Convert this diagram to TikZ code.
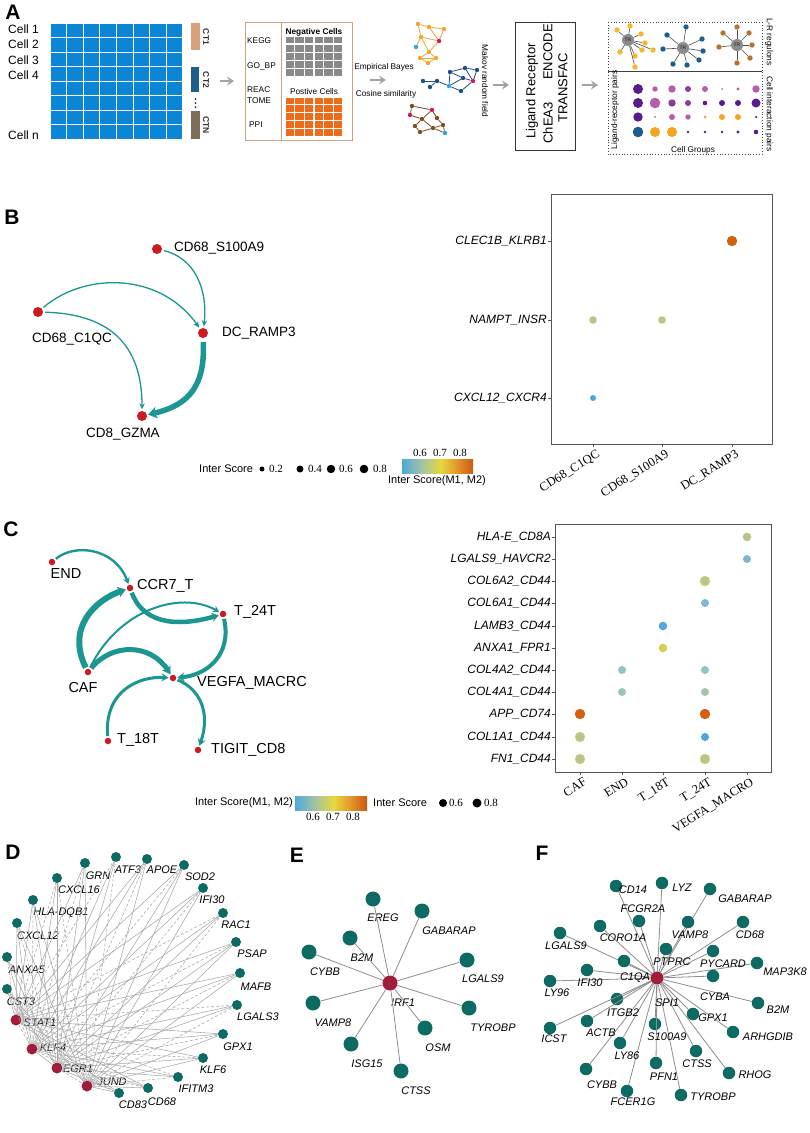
\documentclass[tikz,border=0pt]{standalone}
\usepackage{fontspec}
\setmainfont{Liberation Sans}
\newfontfamily\tnr{Liberation Serif}
\usetikzlibrary{arrows.meta}
\newcommand\fsz[1]{\fontsize{#1}{#1}\selectfont}
\definecolor{gridblue}{HTML}{0B86D6}
\definecolor{ctone}{HTML}{D9A27C}
\definecolor{cttwo}{HTML}{1D5E8A}
\definecolor{ctn}{HTML}{7C6C58}
\definecolor{arrowgray}{HTML}{A3A3A3}
\definecolor{boxtan}{HTML}{C9A27E}
\definecolor{cellgray}{HTML}{8A8A8A}
\definecolor{cellorange}{HTML}{EF6C1A}
\definecolor{netorange}{HTML}{F2A52A}
\definecolor{netblue}{HTML}{1E4F86}
\definecolor{netbrown}{HTML}{7E4F22}
\definecolor{netred}{HTML}{E0115F}
\definecolor{netlblue}{HTML}{2AA7E3}
\definecolor{trgray}{HTML}{8C8C8C}
\definecolor{leafyellow}{HTML}{F5B72C}
\definecolor{leafblue}{HTML}{1C5E8C}
\definecolor{leafbrown}{HTML}{B8712F}
\definecolor{dpur}{HTML}{5A1C8C}
\definecolor{mag}{HTML}{B65EAC}
\definecolor{mpur}{HTML}{8C3A9B}
\definecolor{gold}{HTML}{F5A41F}
\definecolor{dotblue}{HTML}{1E5C8F}
\definecolor{edgeteal}{HTML}{1C9690}
\definecolor{nodered}{HTML}{CC1B1F}
\definecolor{axisgray}{HTML}{555555}
\definecolor{cbA}{HTML}{4DA8DF}
\definecolor{cbB}{HTML}{A9C59C}
\definecolor{cbC}{HTML}{E5D73E}
\definecolor{cbD}{HTML}{E39A2C}
\definecolor{cbE}{HTML}{CC5A12}
\definecolor{dsage}{HTML}{B7C48E}
\definecolor{dlblue}{HTML}{80B6D0}
\definecolor{dlbluetwo}{HTML}{7DB8D8}
\definecolor{dblue}{HTML}{56A8DC}
\definecolor{dyellow}{HTML}{D6CF50}
\definecolor{dtealone}{HTML}{96C2C6}
\definecolor{dtealtwo}{HTML}{9CC3BE}
\definecolor{dtealthree}{HTML}{A6C3AA}
\definecolor{dorange}{HTML}{D2600F}
\definecolor{dbluefour}{HTML}{4BA4DD}
\definecolor{dringe}{HTML}{E6CF6E}
\definecolor{gteal}{HTML}{0E6B63}
\definecolor{gred}{HTML}{A11D3C}
\definecolor{dgray}{HTML}{A8A8A8}
\definecolor{egray}{HTML}{8E8E8E}
\pgfdeclarehorizontalshading{scorebar}{100bp}{color(0bp)=(cbA); color(25bp)=(cbA); color(40bp)=(cbB); color(52bp)=(cbC); color(63bp)=(cbD); color(75bp)=(cbE); color(100bp)=(cbE)}
\begin{document}
\begin{tikzpicture}[x=1pt,y=-1pt,
  panel/.style={inner sep=0, font=\fsz{21}\bfseries},
  celllab/.style={inner sep=0, anchor=west, font=\fsz{12}},
  small/.style={inner sep=0, font=\fsz{8.3}},
  ctlab/.style={inner sep=0, font=\fsz{8.5}\bfseries, text=black!80, rotate=-90},
  boxtxt/.style={inner sep=0, font=\fsz{13}, rotate=90},
  grayarrow/.style={-{Stealth[length=7,width=9,inset=2.5]}, line width=1.6, draw=arrowgray},
  gn/.style={circle, inner sep=0, minimum size=4.4},
  lf/.style={circle, inner sep=0, minimum size=5.4},
  trn/.style={circle, inner sep=0, minimum size=12, fill=trgray, font=\fsz{5}\bfseries, text=black!75},
  rnode/.style={circle, inner sep=0, minimum size=10, fill=nodered},
  rsnode/.style={circle, inner sep=0, minimum size=6.5, fill=nodered},
  blab/.style={inner sep=0, font=\fsz{13.5}},
  clab/.style={inner sep=0, font=\fsz{14.5}},
  bedge/.style={draw=edgeteal, line width=1.3, -{Stealth[length=6,width=5.5]}, shorten <=2, shorten >=1.5},
  cedge/.style={draw=edgeteal, shorten <=1.5, shorten >=1},
  ylab/.style={inner sep=0, anchor=east, font=\fsz{12}\itshape},
  xlab/.style={inner sep=0, anchor=north east, rotate=32, font=\fsz{12.5}\tnr},
  leg/.style={inner sep=0, font=\fsz{11}},
  legnum/.style={inner sep=0, font=\fsz{11}\tnr},
  dtnode/.style={circle, inner sep=0, minimum size=10, fill=gteal},
  drnode/.style={circle, inner sep=0, minimum size=11, fill=gred},
  glab/.style={inner sep=0, font=\fsz{11}\itshape},
  dedge/.style={draw=dgray, line width=0.55},
  etnode/.style={circle, inner sep=0, minimum size=15, fill=gteal},
  ftnode/.style={circle, inner sep=0, minimum size=12.5, fill=gteal},
  eedge/.style={draw=egray, line width=0.8}
]
\useasboundingbox (0,0) rectangle (809,1133);
\fill[white] (0,0) rectangle (809,1133);

%%%%%%%%%%%%%%%% PANEL A
\node[panel] (pA) at (13,12) {A};
\foreach \i in {0,...,7} \foreach \j in {0,...,7}
  \fill[gridblue] ({50.5+\i*16.6},{23.5+\j*14.5}) rectangle ++(15.6,13.5);
\node[celllab] (c1) at (8,29) {Cell 1};
\node[celllab] (c2) at (8,44) {Cell 2};
\node[celllab] (c3) at (8,60) {Cell 3};
\node[celllab] (c4) at (8,75) {Cell 4};
\node[celllab] (cn) at (8,135) {Cell n};
\fill[ctone] (191,23) rectangle (200,50);
\fill[cttwo] (191,67) rectangle (199,92);
\fill[ctn] (191,111) rectangle (200,139);
\foreach \yy in {99,103,107} \fill[black!80] (195.5,\yy) circle (1);
\node[ctlab] (ct1) at (206,37) {CT1};
\node[ctlab] (ct2) at (206,80) {CT2};
\node[ctlab] (ctN) at (206,125) {CTN};

\coordinate (ar1s) at (220,81); \coordinate (ar1e) at (234,81);
\draw[grayarrow] (ar1s) -- (ar1e);

\draw[boxtan, line width=0.9] (245,22) rectangle (352,140);
\draw[boxtan, line width=0.9] (281,22) -- (281,140);
\node[small, anchor=west] (kegg) at (247,41) {KEGG};
\node[small, anchor=west] (gobp) at (247,66) {GO\_BP};
\node[small, anchor=west] (reac) at (247,90) {REAC};
\node[small, anchor=west] (tome) at (247,101) {TOME};
\node[small, anchor=west] (ppi) at (249,125) {PPI};
\node[small] (negc) at (314,32) {\bfseries Negative Cells};
\node[small] (posc) at (314,92) {Postive Cells};
\foreach \i in {0,...,5} \foreach \j in {0,...,4} {
  \fill[cellgray] ({285.5+\i*9.7},{37+\j*8.1}) rectangle ++(8.4,6.4);
  \fill[cellorange] ({285.5+\i*9.7},{97.5+\j*7.9}) rectangle ++(8.4,6.5);
}
\coordinate (ar2s) at (370,80); \coordinate (ar2e) at (386,80);
\draw[grayarrow] (ar2s) -- (ar2e);
\node[small] (eb) at (384,67) {Empirical Bayes};
\node[small] (cs) at (386,94) {Cosine similarity};

% orange network
\begin{scope}[every node/.style={gn, fill=netorange}]
\node (o1) at (418,24) {}; \node (o2) at (429,27) {}; \node (o3) at (444,29) {};
\node (o4) at (421,37) {}; \node[fill=netred] (o5) at (439,41) {}; \node[fill=netlblue] (o6) at (416,47) {};
\node (o7) at (429,52) {}; \node (o8) at (420,58) {}; \node (o9) at (436,58) {}; \node (o10) at (428,63) {};
\end{scope}
\foreach \a/\b in {o1/o2,o2/o3,o1/o4,o3/o5,o4/o5,o2/o5,o4/o6,o4/o7,o5/o7,o7/o8,o7/o9,o8/o9,o8/o10,o9/o10}
  \draw[netorange, line width=0.8] (\a) -- (\b);
% blue network
\begin{scope}[every node/.style={gn, fill=netblue}]
\node (b1) at (450,72) {}; \node (b2) at (465,68) {}; \node (b3) at (477,70) {};
\node (b4) at (463,78) {}; \node[fill=netred] (b5) at (473,81) {}; \node (b6) at (437,81) {};
\node (b7) at (423,81) {}; \node[fill=netlblue] (b8) at (449,86) {}; \node (b9) at (430,87) {}; \node (b10) at (461,91) {};
\end{scope}
\foreach \a/\b in {b1/b2,b2/b3,b1/b4,b3/b5,b4/b5,b4/b8,b1/b8,b6/b7,b6/b9,b6/b8,b8/b10,b5/b10,b2/b5}
  \draw[netblue, line width=0.8] (\a) -- (\b);
% brown network
\begin{scope}[every node/.style={gn, fill=netbrown}]
\node (r1) at (412,106) {}; \node[fill=netred] (r2) at (432,110) {}; \node[fill=netred] (r3) at (410,115) {};
\node (r4) at (422,119) {}; \node (r5) at (437,118) {}; \node (r6) at (415,126) {};
\node (r7) at (433,128) {}; \node (r8) at (443,125) {}; \node (r9) at (420,132) {}; \node[fill=netlblue] (r10) at (445,133) {};
\end{scope}
\foreach \a/\b in {r1/r2,r1/r3,r3/r4,r2/r4,r2/r5,r5/r8,r4/r6,r6/r9,r9/r7,r7/r8,r8/r10,r7/r10,r4/r7}
  \draw[netbrown, line width=0.8] (\a) -- (\b);

\node[small, rotate=-90] (mrf) at (485,81) {Makov random field};
\coordinate (ar3s) at (493,85); \coordinate (ar3e) at (509,85);
\draw[grayarrow] (ar3s) -- (ar3e);

\draw[black!80, line width=0.9] (515,22) rectangle (575,150);
\node[boxtxt] (lr) at (532,91) {Ligand Receptor};
\node[boxtxt] (chea) at (548,123) {ChEA3};
\node[boxtxt] (enc) at (548,52) {ENCODE};
\node[boxtxt] (tfac) at (563,88) {TRANSFAC};
\coordinate (ar4s) at (582,85); \coordinate (ar4e) at (598,85);
\draw[grayarrow] (ar4s) -- (ar4e);

\draw[black!75, line width=0.8, dotted] (608,22) rectangle (762,154);
\draw[black!75, line width=0.9] (608,71) -- (762,71);
\node[trn] (tr1) at (628,40) {TR};
\node[trn] (tr2) at (683,48) {TR};
\node[trn] (tr3) at (737,45) {TR};
\foreach \xx/\yy [count=\k] in {617/30,630/26,641/34,645/43,653/50,642/50,635/56,635/67,620/52} {
  \node[lf, fill=leafyellow] (ya\k) at (\xx,\yy) {};
  \draw[black!70, line width=0.6] (tr1) -- (ya\k);
}
\foreach \xx/\yy [count=\k] in {667/35,686/27,702/39,703/51,699/60,687/65,663/49,673/64} {
  \node[lf, fill=leafblue] (bl\k) at (\xx,\yy) {};
  \draw[black!70, line width=0.6] (tr2) -- (bl\k);
}
\foreach \xx/\yy [count=\k] in {723/33,737/27,749/33,752/45,750/58,737/63,719/47} {
  \node[lf, fill=leafbrown] (br\k) at (\xx,\yy) {};
  \draw[black!70, line width=0.6] (tr3) -- (br\k);
}
\node[small, rotate=-90] (lrreg) at (769,42) {L-R regulons};
\node[small, rotate=-90] (cip) at (769,114) {Cell interaction pairs};
\node[small, rotate=90] (lrp) at (615,110) {Ligand-receptor pairs};
\node[small] (cg) at (693,150) {Cell Groups};
\foreach \xx/\r/\c in {638/5/dpur,655/2.7/mag,672/3.7/mag,688/3/mpur,705/3/mag,722/1/mag,738/1.7/mag,756/3.7/mag}
  \fill[\c] (\xx,89) circle (\r);
\foreach \xx/\r/\c in {638/5/dpur,655/5.3/mag,672/3.7/mpur,688/3/mpur,705/2.3/dpur,722/3/dpur,738/3/dpur,756/4.5/dpur}
  \fill[\c] (\xx,103) circle (\r);
\foreach \xx/\r/\c in {638/4.7/dpur,655/1/mag,672/3/mag,688/2.7/mag,705/1.5/gold,722/3/gold,738/3/gold,756/1/black}
  \fill[\c] (\xx,117) circle (\r);
\foreach \xx/\r/\c in {638/5.3/dotblue,655/5/gold,672/5/gold,688/1.3/dpur,705/1.3/dpur,722/1.3/dpur,738/1.7/dpur,756/2.3/dpur}
  \fill[\c] (\xx,132) circle (\r);

%%%%%%%%%%%%%%%% PANEL B
\node[panel] (pB) at (12,217) {B};
\node[rnode] (bS) at (157,249) {};
\node[rnode] (bC) at (38,312) {};
\node[rnode] (bR) at (203,333) {};
\node[rnode] (bG) at (142,416) {};
\node[blab, anchor=west] (bSl) at (174,248) {CD68\_S100A9};
\node[blab] (bCl) at (72,339) {CD68\_C1QC};
\node[blab, anchor=west] (bRl) at (222,333) {DC\_RAMP3};
\node[blab] (bGl) at (123,434) {CD8\_GZMA};
\draw[bedge] (bS) .. controls (195,258) and (208,290) .. (bR);
\draw[bedge] (bC) .. controls (85,272) and (160,272) .. (bR);
\draw[bedge] (bC) .. controls (110,314) and (142,345) .. (bG);
\draw[draw=edgeteal, line width=5.5, -{Stealth[length=9,width=12]}, shorten <=4, shorten >=1] (bR) .. controls (205,385) and (190,405) .. (bG);

\node[leg, anchor=west] (bleg) at (199,469) {Inter Score};
\fill (262,469) circle (2.5);
\node[legnum, anchor=west] (bl2) at (269,469) {0.2};
\fill (300,469) circle (3.5);
\node[legnum, anchor=west] (bl4) at (308,469) {0.4};
\fill (331,469) circle (4.2);
\node[legnum, anchor=west] (bl6) at (339,469) {0.6};
\fill (364,469) circle (4.3);
\node[legnum, anchor=west] (bl8) at (373,469) {0.8};
\shade[shading=scorebar] (402,459) rectangle (473,473);
\node[legnum] (bt6) at (420,453) {0.6};
\node[legnum] (bt7) at (440,453) {0.7};
\node[legnum] (bt8) at (460,453) {0.8};
\node[leg] (bcbl) at (437,481) {Inter Score(M1, M2)};

\draw[axisgray, line width=1] (551,194) rectangle (772,444);
\foreach \yy/\t in {241/CLEC1B\_KLRB1,320/NAMPT\_INSR,398/CXCL12\_CXCR4} {
  \draw[axisgray, line width=0.8] (548,\yy) -- (551,\yy);
  \node[ylab] at (547,\yy) {\t};
}
\foreach \xx/\t in {593/CD68\_C1QC,662/CD68\_S100A9,732/DC\_RAMP3} {
  \draw[axisgray, line width=0.8] (\xx,444) -- (\xx,447);
  \node[xlab] at (\xx+3,449) {\t};
}
\fill[dorange] (732,241) circle (5.2);
\fill[dsage] (593,320) circle (3.8);
\fill[dsage] (662,320) circle (3.8);
\fill[dbluefour] (593,398) circle (3);

%%%%%%%%%%%%%%%% PANEL C
\node[panel] (pC) at (11,529) {C};
\node[rsnode] (cE) at (52,562) {};
\node[rsnode] (cC7) at (130,588) {};
\node[rsnode] (c24) at (223,614) {};
\node[rsnode] (cA) at (88,672) {};
\node[rsnode] (cV) at (173,678) {};
\node[rsnode] (c18) at (108,741) {};
\node[rsnode] (cT) at (198,750) {};
\node[clab] (cEl) at (66,574) {END};
\node[clab, anchor=west] (cC7l) at (137,586) {CCR7\_T};
\node[clab, anchor=west] (c24l) at (234,612) {T\_24T};
\node[clab] (cAl) at (83,687) {CAF};
\node[clab, anchor=west] (cVl) at (197,683) {VEGFA\_MACRC};
\node[clab, anchor=west] (c18l) at (117,740) {T\_18T};
\node[clab, anchor=west] (cTl) at (211,750) {TIGIT\_CD8};
\draw[cedge, line width=2.4, -{Stealth[length=6,width=7]}] (cE) .. controls (75,543) and (115,548) .. (cC7);
\draw[cedge, line width=6, -{Stealth[length=8,width=11]}] (cA) .. controls (66,628) and (95,600) .. (cC7);
\draw[cedge, line width=4.5, -{Stealth[length=7,width=9]}] (cC7) .. controls (145,628) and (185,625) .. (c24);
\draw[cedge, line width=2, -{Stealth[length=6,width=7]}] (cA) .. controls (118,610) and (180,590) .. (c24);
\draw[cedge, line width=5, -{Stealth[length=8,width=10]}] (cA) .. controls (112,643) and (150,643) .. (cV);
\draw[cedge, line width=4, -{Stealth[length=7,width=9]}] (c24) .. controls (232,655) and (207,675) .. (cV);
\draw[cedge, line width=3, -{Stealth[length=7,width=8]}] (c18) .. controls (104,690) and (140,676) .. (cV);
\draw[cedge, line width=3, -{Stealth[length=7,width=8]}] (cV) .. controls (202,690) and (210,715) .. (cT);

\node[leg, anchor=east] (cleg1) at (293,803) {Inter Score(M1, M2)};
\shade[shading=scorebar] (295,796) rectangle (367,810);
\node[legnum] (ct6) at (313,817) {0.6};
\node[legnum] (ct7) at (333,817) {0.7};
\node[legnum] (ct8) at (353,817) {0.8};
\node[leg, anchor=west] (cleg2) at (373,803) {Inter Score};
\fill (443,803) circle (4);
\node[legnum, anchor=west] (cl6) at (449,803) {0.6};
\fill (477,803) circle (4.5);
\node[legnum, anchor=west] (cl8) at (484,803) {0.8};

\draw[axisgray, line width=1] (555,524) rectangle (771,772);
\foreach \yy/\t in {537/HLA-E\_CD8A,559/LGALS9\_HAVCR2,581/COL6A2\_CD44,603/COL6A1\_CD44,626/LAMB3\_CD44,648/ANXA1\_FPR1,670/COL4A2\_CD44,692/COL4A1\_CD44,714/APP\_CD74,737/COL1A1\_CD44,759/FN1\_CD44} {
  \draw[axisgray, line width=0.8] (552,\yy) -- (555,\yy);
  \node[ylab] at (551,\yy) {\t};
}
\foreach \xx/\t in {580/CAF,622/END,663/T\_18T,705/T\_24T,747/VEGFA\_MACRO} {
  \draw[axisgray, line width=0.8] (\xx,772) -- (\xx,775);
  \node[xlab] at (\xx+3,777) {\t};
}
\foreach \xx/\yy/\r/\c in {747/537/4.3/dsage,747/559/4/dlblue,705/603/4/dlbluetwo,663/626/4.3/dblue,663/648/4.3/dyellow,622/670/4/dtealone,705/670/4/dtealone,622/692/4/dtealtwo,705/692/4/dtealthree,580/714/5.2/dorange,705/714/5.2/dorange,705/737/4/dbluefour}
  \fill[\c] (\xx,\yy) circle (\r);
\foreach \xx/\yy in {705/581,580/737,580/759,705/759}
  \filldraw[fill=dsage, draw=dringe, line width=0.6] (\xx,\yy) circle (4.9);

%%%%%%%%%%%%%%%% PANEL D
\node[panel] (pD) at (13,852) {D};
\foreach \n/\x/\y/\lx/\ly/\t in {d1/85/863/98/876/GRN,d2/116/857/128/870/ATF3,d3/147/859/162/870/APOE,d4/184/865/200/877/SOD2,d5/57/878/79/890/CXCL16,d6/203/888/212/900/IFI30,d7/33/900/61/913/HLA-DQB1,d8/223/913/236/925/RAC1,d9/17/923/38/936/CXCL12,d10/236/942/252/954/PSAP,d11/7/957/27/970/ANXA5,d12/240/973/256/987/MAFB,d13/7/989/21/1002/CST3,d14/237/1005/258/1017/LGALS3,d15/223/1034/238/1047/GPX1,d16/203/1058/213/1070/KLF6,d17/178/1077/196/1089/IFITM3,d18/148/1088/162/1102/CD68,d19/119/1093/133/1105/CD83} {
  \node[dtnode] (\n) at (\x,\y) {};
  \node[glab] (l\n) at (\lx,\ly) {\t};
}
\node[drnode] (dS) at (16,1020) {};
\node[drnode] (dK) at (32,1049) {};
\node[drnode] (dE) at (57,1068) {};
\node[drnode] (dJ) at (87,1086) {};
\node[glab] (ldS) at (40,1023) {STAT1};
\node[glab] (ldK) at (53,1048) {KLF4};
\node[glab] (ldE) at (78,1069) {EGR1};
\node[glab] (ldJ) at (112,1082) {JUND};
\foreach \a [count=\i] in {dS,dK,dE,dJ} {
  \foreach \b in {1,...,19} {
    \pgfmathtruncatemacro\m{mod(\i+\b,3)}
    \ifnum\m=0
      \draw[dedge, dash pattern=on 3pt off 2pt] (\a) -- (d\b);
    \else
      \draw[dedge] (\a) -- (d\b);
    \fi
  }
}
\draw[dedge, dash pattern=on 3pt off 2pt] (dS) -- (dK);
\draw[dedge] (dK) -- (dE);
\draw[dedge, dash pattern=on 3pt off 2pt] (dE) -- (dJ);

%%%%%%%%%%%%%%%% PANEL E
\node[panel] (pE) at (297,855) {E};
\node[circle, inner sep=0, minimum size=15, fill=gred] (eI) at (390,983) {};
\node[glab] (leI) at (403,1003) {IRF1};
\foreach \n/\x/\y/\lx/\ly/\t in {e1/373/899/383/918/EREG,e2/422/911/449/931/GABARAP,e3/350/938/362/958/B2M,e4/309/952/325/972/CYBB,e5/467/960/483/979/LGALS9,e6/313/1003/333/1023/VAMP8,e7/469/1008/493/1028/TYROBP,e8/425/1028/438/1048/OSM,e9/351/1044/367/1064/ISG15,e10/401/1071/416/1091/CTSS} {
  \node[etnode] (\n) at (\x,\y) {};
  \node[glab] (l\n) at (\lx,\ly) {\t};
  \draw[eedge] (eI) -- (\n);
}

%%%%%%%%%%%%%%%% PANEL F
\node[panel] (pF) at (542,853) {F};
\node[circle, inner sep=0, minimum size=13, fill=gred] (fS) at (657,978) {};
\foreach \n/\x/\y/\lx/\ly/\t in {f1/616/886/633/890/CD14,f2/662/883/682/888/LYZ,f3/710/889/745/899/GABARAP,f4/639/921/643/909/FCGR2A,f5/600/926/623/938/CORO1A,f6/688/922/690/935/VAMP8,f7/743/922/750/935/CD68,f8/560/933/566/946/LGALS9,f9/666/949/672/962/PTPRC,f10/713/951/723/964/PYCARD,f11/624/961/635/978/C1QA,f12/757/963/785/972/MAP3K8,f13/587/970/590/983/IFI30,f14/550/981/557/993/LY96,f15/713/976/715/997/CYBA,f16/617/999/623/1013/ITGB2,f17/758/1003/778/1010/B2M,f18/693/1014/713/1018/GPX1,f19/587/1021/601/1033/ACTB,f20/550/1028/554/1039/ICST,f21/733/1032/768/1037/ARHGDIB,f22/655/1024/667/1037/S100A9,f23/620/1043/627/1056/LY86,f24/696/1051/697/1064/CTSS,f25/656/1063/664/1077/PFN1,f26/729/1073/755/1075/RHOG,f27/586/1069/602/1085/CYBB,f28/627/1091/633/1102/FCER1G,f29/681/1095/713/1097/TYROBP} {
  \node[ftnode] (\n) at (\x,\y) {};
  \draw[eedge] (fS) -- (\n);
}
\foreach \n/\x/\y/\lx/\ly/\t in {f1/616/886/633/890/CD14,f2/662/883/682/888/LYZ,f3/710/889/745/899/GABARAP,f4/639/921/643/909/FCGR2A,f5/600/926/623/938/CORO1A,f6/688/922/690/935/VAMP8,f7/743/922/750/935/CD68,f8/560/933/566/946/LGALS9,f9/666/949/672/962/PTPRC,f10/713/951/723/964/PYCARD,f11/624/961/635/978/C1QA,f12/757/963/785/972/MAP3K8,f13/587/970/590/983/IFI30,f14/550/981/557/993/LY96,f15/713/976/715/997/CYBA,f16/617/999/623/1013/ITGB2,f17/758/1003/778/1010/B2M,f18/693/1014/713/1018/GPX1,f19/587/1021/601/1033/ACTB,f20/550/1028/554/1039/ICST,f21/733/1032/768/1037/ARHGDIB,f22/655/1024/667/1037/S100A9,f23/620/1043/627/1056/LY86,f24/696/1051/697/1064/CTSS,f25/656/1063/664/1077/PFN1,f26/729/1073/755/1075/RHOG,f27/586/1069/602/1085/CYBB,f28/627/1091/633/1102/FCER1G,f29/681/1095/713/1097/TYROBP} {
  \node[glab] (l\n) at (\lx,\ly) {\t};
}
\node[glab] (lfS) at (667,1003) {SPI1};
\end{tikzpicture}
\end{document}
